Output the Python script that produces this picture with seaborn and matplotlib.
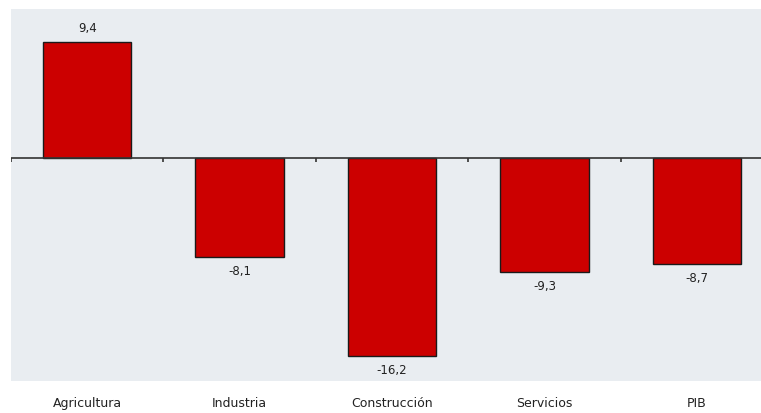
import numpy as np
import pandas as pd
import matplotlib
matplotlib.use('Agg')
import matplotlib.pyplot as plt
import seaborn as sns

# data
sectors = ['Agricultura', 'Industria', 'Construcción', 'Servicios', 'PIB']
values = [9.4, -8.1, -16.2, -9.3, -8.7]

df = pd.DataFrame({'sector': sectors, 'value': values})

sns.set_style('white')
plt.rcParams['font.family'] = ['DejaVu Sans']

fig = plt.figure(figsize=(7.61, 4.14), dpi=100)
ax = fig.add_axes([11 / 761, 32 / 414, 750 / 761, 372 / 414])
ax.set_facecolor('#e9edf1')

sns.barplot(data=df, x='sector', y='value', color='#cc0000', saturation=1,
            edgecolor='#1a1a1a', linewidth=1.0, width=0.58, ax=ax)

ax.set_xlim(-0.5, 4.42)
ax.set_ylim(-18.2, 12.1)

# zero line with small ticks between categories
ax.axhline(0, color='#333333', lw=1.2, zorder=3)
bounds = np.arange(len(sectors)) - 0.5
ax.vlines(bounds, -0.35, 0, color='#333333', lw=1.2, zorder=3)

# value labels
for i, v in enumerate(values):
    txt = f'{v:.1f}'.replace('.', ',')
    if v >= 0:
        ax.annotate(txt, (i, v), xytext=(0, 6), textcoords='offset points',
                    ha='center', va='bottom', fontsize=8.5, color='#222222')
    else:
        ax.annotate(txt, (i, v), xytext=(0, -5), textcoords='offset points',
                    ha='center', va='top', fontsize=8.5, color='#222222')

for s in ax.spines.values():
    s.set_visible(False)
ax.set_yticks([])
ax.set_xlabel('')
ax.set_ylabel('')
ax.tick_params(axis='x', length=0, pad=11, labelsize=9, labelcolor='#222222')

fig.savefig('out.png', dpi=100)
